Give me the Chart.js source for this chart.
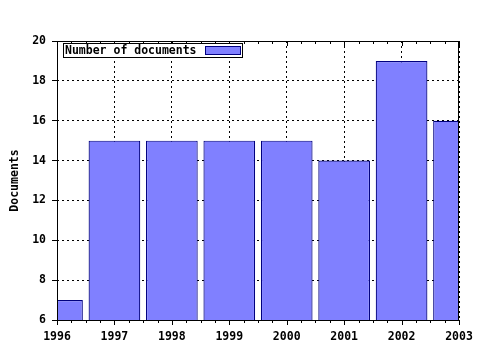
<!DOCTYPE html>
<html>
<head>
<meta charset="utf-8">
<script src="https://cdn.jsdelivr.net/npm/chart.js@4"></script>
<style>
  html, body { margin: 0; padding: 0; background: #ffffff; }
  #wrap { width: 480px; height: 350px; }
</style>
</head>
<body>
<div id="wrap"><canvas id="myChart" width="480" height="350"></canvas></div>
<script>
const years = [1996, 1997, 1998, 1999, 2000, 2001, 2002, 2003];
const documents = [7, 15, 15, 15, 15, 14, 19, 16];
const seriesLabel = "Number of documents";
const yTicks = [6, 8, 10, 12, 14, 16, 18, 20];

const FONT = "'DejaVu Sans Mono', monospace";
const FILL = "#8080ff";
const EDGE = "#000080";

// frame, minor ticks and boxed legend
const framePlugin = {
    id: "frame",
    afterDraw(chart) {
        const ctx = chart.ctx;
        const a = chart.chartArea;
        const xs = chart.scales.x;

        ctx.save();
        ctx.strokeStyle = "#000000";
        ctx.lineWidth = 1;
        ctx.strokeRect(a.left + 0.5, a.top + 0.5, a.right - a.left - 1, a.bottom - a.top);

        ctx.beginPath();
        for (let v = years[0]; v <= years[years.length - 1]; v += 0.25) {
            const px = Math.round(xs.getPixelForValue(v)) + 0.5;
            const len = Number.isInteger(v) ? 5 : 3;
            ctx.moveTo(px, a.bottom);
            ctx.lineTo(px, a.bottom + len);
            ctx.moveTo(px, a.top);
            ctx.lineTo(px, a.top + len);
        }
        ctx.stroke();

        // legend
        const lx = a.left + 6, ly = a.top + 2;
        ctx.fillStyle = "#ffffff";
        ctx.fillRect(lx, ly, 179, 14);
        ctx.strokeRect(lx + 0.5, ly + 0.5, 179, 14);
        ctx.fillStyle = "#000000";
        ctx.font = "bold 11.5px " + FONT;
        ctx.textBaseline = "middle";
        ctx.fillText(seriesLabel, lx + 2, ly + 8);
        ctx.fillStyle = FILL;
        ctx.fillRect(lx + 142, ly + 3, 35, 8);
        ctx.strokeStyle = EDGE;
        ctx.strokeRect(lx + 142.5, ly + 3.5, 35, 8);
        ctx.restore();
    }
};

new Chart(document.getElementById("myChart"), {
    type: "bar",
    data: {
        datasets: [{
            label: seriesLabel,
            data: years.map((y, i) => ({ x: y, y: documents[i] })),
            backgroundColor: FILL,
            borderColor: EDGE,
            borderWidth: 1.2,
            barPercentage: 0.9,
            categoryPercentage: 1.0
        }]
    },
    options: {
        responsive: false,
        animation: false,
        layout: { padding: { top: 41, right: 21, left: 8, bottom: 0 } },
        plugins: {
            legend: { display: false },
            tooltip: { enabled: false }
        },
        scales: {
            x: {
                type: "linear",
                min: years[0],
                max: years[years.length - 1],
                offset: false,
                afterBuildTicks: (s) => { s.ticks = years.map(v => ({ value: v })); },
                afterFit: (s) => {
                    s.height = 30;
                    s.paddingLeft = 0;
                    s.paddingRight = 0;
                },
                ticks: {
                    color: "#000000",
                    font: { family: FONT, size: 11.5, weight: "bold" },
                    padding: 10,
                    maxRotation: 0,
                    autoSkip: false,
                    callback: (v) => String(v)
                },
                grid: {
                    offset: false,
                    color: "#000000",
                    drawTicks: false,
                    tickLength: 0
                },
                border: { display: false, dash: [2, 3] }
            },
            y: {
                min: 6,
                max: 20,
                afterBuildTicks: (s) => { s.ticks = yTicks.map(v => ({ value: v })); },
                afterFit: (s) => { s.width = 49; },
                ticks: {
                    color: "#000000",
                    font: { family: FONT, size: 11.5, weight: "bold" },
                    padding: 6
                },
                grid: {
                    color: "#000000",
                    drawTicks: true,
                    tickLength: 5,
                    tickBorderDash: [],
                    tickColor: "#000000"
                },
                border: { display: false, dash: [2, 3] },
                title: {
                    display: true,
                    text: "Documents",
                    color: "#000000",
                    font: { family: FONT, size: 11.5, weight: "bold" },
                    padding: { top: 0, bottom: 4 }
                }
            }
        }
    },
    plugins: [framePlugin]
});
</script>
</body>
</html>
